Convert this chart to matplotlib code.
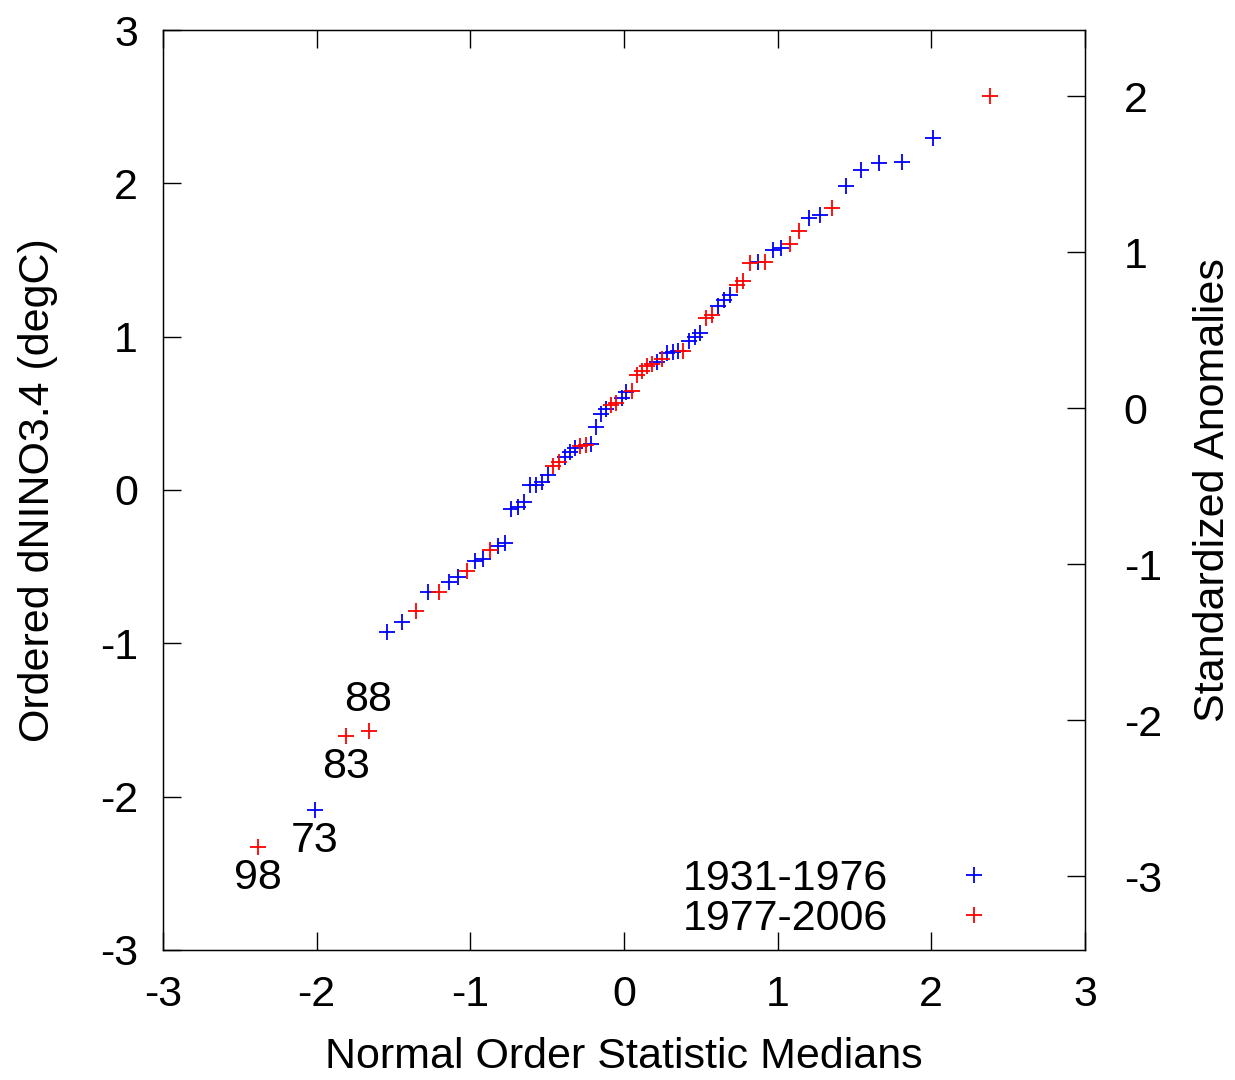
import matplotlib
matplotlib.use('Agg')
import matplotlib.pyplot as plt

plt.rcParams['font.family'] = ['Liberation Sans', 'DejaVu Sans']
plt.rcParams['axes.unicode_minus'] = False

# 1931-1976 (blue)
x_early = [-2.014, -1.544, -1.443, -1.278, -1.141, -1.080, -0.969, -0.918, -0.822, -0.777,
           -0.733, -0.691, -0.650, -0.610, -0.571, -0.533, -0.496, -0.387, -0.352, -0.317,
           -0.215, -0.181, -0.148, -0.115, -0.016, 0.016, 0.215, 0.283, 0.317, 0.352,
           0.423, 0.459, 0.496, 0.610, 0.650, 0.691, 0.869, 0.969, 1.023, 1.207,
           1.278, 1.443, 1.544, 1.662, 1.810, 2.014]
y_early = [-2.087, -0.926, -0.861, -0.665, -0.600, -0.567, -0.463, -0.450, -0.365, -0.346,
           -0.124, -0.111, -0.078, 0.033, 0.033, 0.052, 0.098, 0.215, 0.248, 0.274,
           0.300, 0.411, 0.496, 0.528, 0.600, 0.639, 0.835, 0.893, 0.900, 0.907,
           0.972, 0.998, 1.024, 1.200, 1.239, 1.272, 1.487, 1.565, 1.578, 1.774,
           1.793, 1.983, 2.087, 2.133, 2.139, 2.296]

# 1977-2006 (red)
x_late = [-2.38, -1.810, -1.662, -1.356, -1.207, -1.023, -0.869, -0.459, -0.423, -0.283,
          -0.249, -0.082, -0.049, 0.049, 0.082, 0.115, 0.148, 0.181, 0.249, 0.387,
          0.533, 0.571, 0.733, 0.777, 0.822, 0.918, 1.080, 1.141, 1.356, 2.38]
y_late = [-2.328, -1.604, -1.572, -0.789, -0.665, -0.528, -0.391, 0.157, 0.183, 0.287,
          0.293, 0.554, 0.567, 0.646, 0.750, 0.776, 0.809, 0.822, 0.854, 0.907,
          1.122, 1.141, 1.337, 1.363, 1.480, 1.487, 1.604, 1.689, 1.839, 2.570]

# labelled years at their points
labels = ['98', '73', '83', '88']
label_x = [-2.38, -2.014, -1.810, -1.662]
label_y = [-2.328, -2.087, -1.604, -1.572]
label_dy = [-0.2, -0.2, -0.2, 0.2]

fs = 31

fig = plt.figure(figsize=(12.35, 10.8), dpi=100)
ax = fig.add_axes([0.132, 0.1204, 0.7465, 0.8518])
ax.plot(x_early, y_early, '+', color='#0000ff', ms=12, mew=1.3, label='1931-1976')
ax.plot(x_late, y_late, '+', color='#ff0000', ms=12, mew=1.3, label='1977-2006')

for t, lx, ly, dy in zip(labels, label_x, label_y, label_dy):
    ax.text(lx, ly + dy, t, fontsize=fs, ha='center', va='center')

ax.set_xlim(-3, 3)
ax.set_ylim(-3, 3)
ax.set_xticks([-3, -2, -1, 0, 1, 2, 3])
ax.set_yticks([-3, -2, -1, 0, 1, 2, 3])
ax.tick_params(axis='x', direction='in', length=13, width=1, top=True,
               labelsize=fs, pad=18)
ax.tick_params(axis='y', direction='in', length=13, width=1, right=False,
               labelsize=fs, pad=18)
ax.set_xlabel('Normal Order Statistic Medians', fontsize=fs, labelpad=16)
ax.set_ylabel('Ordered dNINO3.4 (degC)', fontsize=fs, labelpad=30)
for s in ax.spines.values():
    s.set_linewidth(1.0)

ax2 = ax.twinx()
ax2.set_ylim(-3.474, 2.423)
ax2.set_yticks([-3, -2, -1, 0, 1, 2])
ax2.tick_params(axis='y', direction='in', length=13, width=1,
                labelsize=fs, pad=28)
ax2.set_ylabel('Standardized Anomalies', fontsize=fs, labelpad=22)

ax.legend(loc='lower right', bbox_to_anchor=(0.903, 0.012), frameon=False,
          markerfirst=False, fontsize=fs, handlelength=1.0, handletextpad=1.5,
          labelspacing=0.0, borderaxespad=0.0, borderpad=0.0)

fig.savefig('out.png', dpi=100)
